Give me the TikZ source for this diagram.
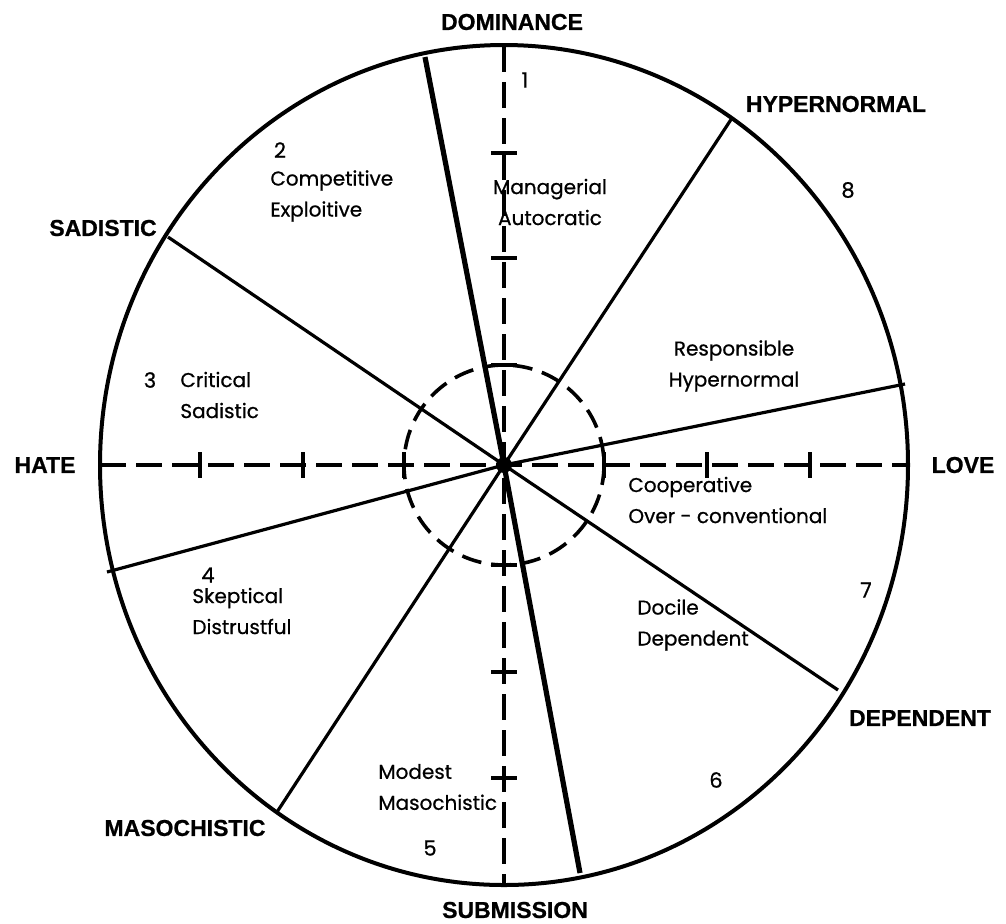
\documentclass[tikz,border=0pt]{standalone}
\usepackage{fontspec}
\setmainfont{Poppins}[FakeBold=0.7]
\newfontfamily\capsfont{Liberation Sans}[BoldFeatures={FakeBold=0.8}]
\usetikzlibrary{positioning}

\begin{document}
\begin{tikzpicture}[x=0.5pt, y=-0.5pt,
        rim/.style={line width=2pt},
        spoke/.style={line width=1.6pt},
        mainspoke/.style={line width=2.6pt},
        axis/.style={line width=1.8pt, dash pattern=on 13pt off 5pt},
        ring/.style={line width=1.8pt, dash pattern=on 10pt off 5pt},
        tick/.style={line width=2pt},
        axislbl/.style={font=\capsfont\bfseries\fontsize{11.5}{13}\selectfont, inner sep=0pt},
        sector/.style={font=\fontsize{10}{15.5}\selectfont, align=left, anchor=west, inner sep=0pt},
        num/.style={font=\fontsize{10.5}{13}\selectfont, inner sep=0pt}
    ]
        \useasboundingbox (0,0) rectangle (1006,923);

        % centre and rim
        \coordinate (o) at (504,465);
        \draw[rim] (o) ellipse [x radius=404, y radius=420];
        \draw[ring] (o) circle [radius=100];

        % dashed axes
        \coordinate (top) at (504,46);
        \coordinate (bot) at (504,885);
        \coordinate (lft) at (100,465);
        \coordinate (rgt) at (908,465);
        \draw[axis] (top) -- (bot);
        \draw[axis] (lft) -- (rgt);
        \foreach \x in {200,303,404,604,707,810}
            \draw[tick] (\x,452) -- (\x,478);
        \foreach \y in {153,258,365,565,672,778}
            \draw[tick] (491,\y) -- (517,\y);

        % sector borders
        \coordinate (pa) at (425,57);
        \coordinate (pb) at (580,873);
        \coordinate (pc) at (168,237);
        \coordinate (pd) at (838,690);
        \coordinate (pe) at (732,118);
        \coordinate (pf) at (277,812);
        \coordinate (pg) at (107,572);
        \coordinate (ph) at (905,384);
        \draw[mainspoke] (pa) -- (o) -- (pb);
        \draw[spoke] (pc) -- (o) -- (pd);
        \draw[spoke] (pe) -- (o) -- (pf);
        \draw[spoke] (pg) -- (o) -- (ph);
        \fill (o) circle [radius=8];

        % axis names
        \node[axislbl] (dom) at (512,22) {DOMINANCE};
        \node[axislbl] (hyp) at (836,104) {HYPERNORMAL};
        \node[axislbl] (sad) at (103,228) {SADISTIC};
        \node[axislbl] (hate) at (45,465) {HATE};
        \node[axislbl] (love) at (963,465) {LOVE};
        \node[axislbl] (dep) at (920,718) {DEPENDENT};
        \node[axislbl] (mas) at (185,828) {MASOCHISTIC};
        \node[axislbl] (sub) at (515,910) {SUBMISSION};

        % sector names
        \node[sector, align=center, anchor=center] (s1) at (550,202) {Managerial\\Autocratic};
        \node[sector] (s2) at (270,196) {Competitive\\Exploitive};
        \node[sector] (s3) at (180,395) {Critical\\Sadistic};
        \node[sector] (s4) at (192,611) {Skeptical\\Distrustful};
        \node[sector] (s5) at (378,787) {Modest\\Masochistic};
        \node[sector] (s6) at (637,625) {Docile\\Dependent};
        \node[sector] (s7) at (628,500) {Cooperative\\Over - conventional};
        \node[sector, align=center, anchor=center] (s8) at (734,366) {Responsible\\Hypernormal};

        % sector numbers
        \node[num] (n1) at (525,80) {1};
        \node[num] (n2) at (280,150) {2};
        \node[num] (n3) at (150,380) {3};
        \node[num] (n4) at (208,575) {4};
        \node[num] (n5) at (430,848) {5};
        \node[num] (n6) at (716,780) {6};
        \node[num] (n7) at (866,590) {7};
        \node[num] (n8) at (848,190) {8};
    \end{tikzpicture}
\end{document}
